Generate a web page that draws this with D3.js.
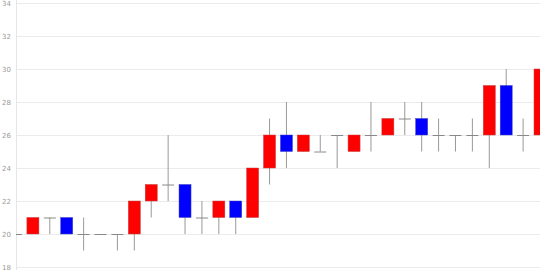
<!DOCTYPE html>
<html>
<head>
<meta charset="utf-8">
<script src="https://cdn.jsdelivr.net/npm/d3@7"></script>
<style>
html,body{margin:0;padding:0;background:#fff;}
svg{display:block;}
</style>
</head>
<body>
<script>
const categories = d3.range(1, 33).map(String);
const open  = [20,20,21,21,20,20,20,20,22,23,23,21,21,22,21,24,26,25,25,26,25,26,26,27,27,26,26,26,26,29,26,26];
const high  = [20,21,21,21,21,20,20,22,23,26,23,22,22,22,24,27,28,26,26,26,26,28,27,28,28,27,26,27,29,30,27,30];
const low   = [20,20,20,20,19,20,19,19,21,22,20,20,20,20,21,23,24,25,25,24,25,25,26,26,25,25,25,25,24,26,25,26];
const close = [20,21,21,20,20,20,20,22,23,23,21,21,22,21,24,26,25,26,25,26,26,26,27,27,26,26,26,26,29,26,26,30];
const yTicks = [18,20,22,24,26,28,30,32,34];

(function () {
const W = 540, H = 270;
const mLeft = 16, mRight = 540, mTop = 3, mBottom = 267;

const svg = d3.select("body").append("svg").attr("width", W).attr("height", H);

const x = d3.scalePoint().domain(categories).range([mLeft, mRight]).padding(0);
const y = d3.scaleLinear().domain([18, 34]).range([mBottom, mTop]);

// grid
svg.append("g").selectAll("line").data(yTicks).join("line")
  .attr("x1", mLeft).attr("x2", mRight)
  .attr("y1", d => Math.round(y(d)) + 0.5).attr("y2", d => Math.round(y(d)) + 0.5)
  .attr("stroke", "#ebebeb").attr("stroke-width", 1);

svg.append("line").attr("x1", mLeft + 0.5).attr("x2", mLeft + 0.5)
  .attr("y1", 0).attr("y2", H).attr("stroke", "#e6e6e6");

// axis labels
const yAxis = d3.axisLeft(y).tickValues(yTicks).tickSize(0).tickPadding(0);
const ga = svg.append("g").attr("transform", "translate(11,0)").call(yAxis);
ga.select(".domain").remove();
ga.selectAll("text").attr("fill", "#999").attr("font-size", 7)
  .attr("font-family", "DejaVu Sans, sans-serif");

svg.append("clipPath").attr("id", "clip").append("rect")
  .attr("x", mLeft).attr("y", 0).attr("width", mRight - mLeft).attr("height", H);

const data = categories.map((c, i) => ({c, o: open[i], h: high[i], l: low[i], cl: close[i]}));
const bw = 12;
const g = svg.append("g").attr("clip-path", "url(#clip)");

// wicks
g.selectAll("line.wick").data(data).join("line").attr("class", "wick")
  .attr("x1", d => x(d.c)).attr("x2", d => x(d.c))
  .attr("y1", d => y(d.h)).attr("y2", d => y(d.l))
  .attr("stroke", "#999").attr("stroke-width", 1);

// bodies
g.selectAll("rect.body").data(data.filter(d => d.o !== d.cl)).join("rect").attr("class", "body")
  .attr("x", d => x(d.c) - bw / 2)
  .attr("width", bw)
  .attr("y", d => y(Math.max(d.o, d.cl)))
  .attr("height", d => Math.abs(y(d.o) - y(d.cl)))
  .attr("fill", d => d.cl > d.o ? "#ff0000" : "#0000ff")
  .attr("stroke", d => d.cl > d.o ? "#c04040" : "#4040c0").attr("stroke-width", 0.5);

// doji
g.selectAll("line.doji").data(data.filter(d => d.o === d.cl)).join("line").attr("class", "doji")
  .attr("x1", d => x(d.c) - bw / 2).attr("x2", d => x(d.c) + bw / 2)
  .attr("y1", d => y(d.o) + 0.5).attr("y2", d => y(d.o) + 0.5)
  .attr("stroke", "#888").attr("stroke-width", 1);
})();
</script>
</body>
</html>
